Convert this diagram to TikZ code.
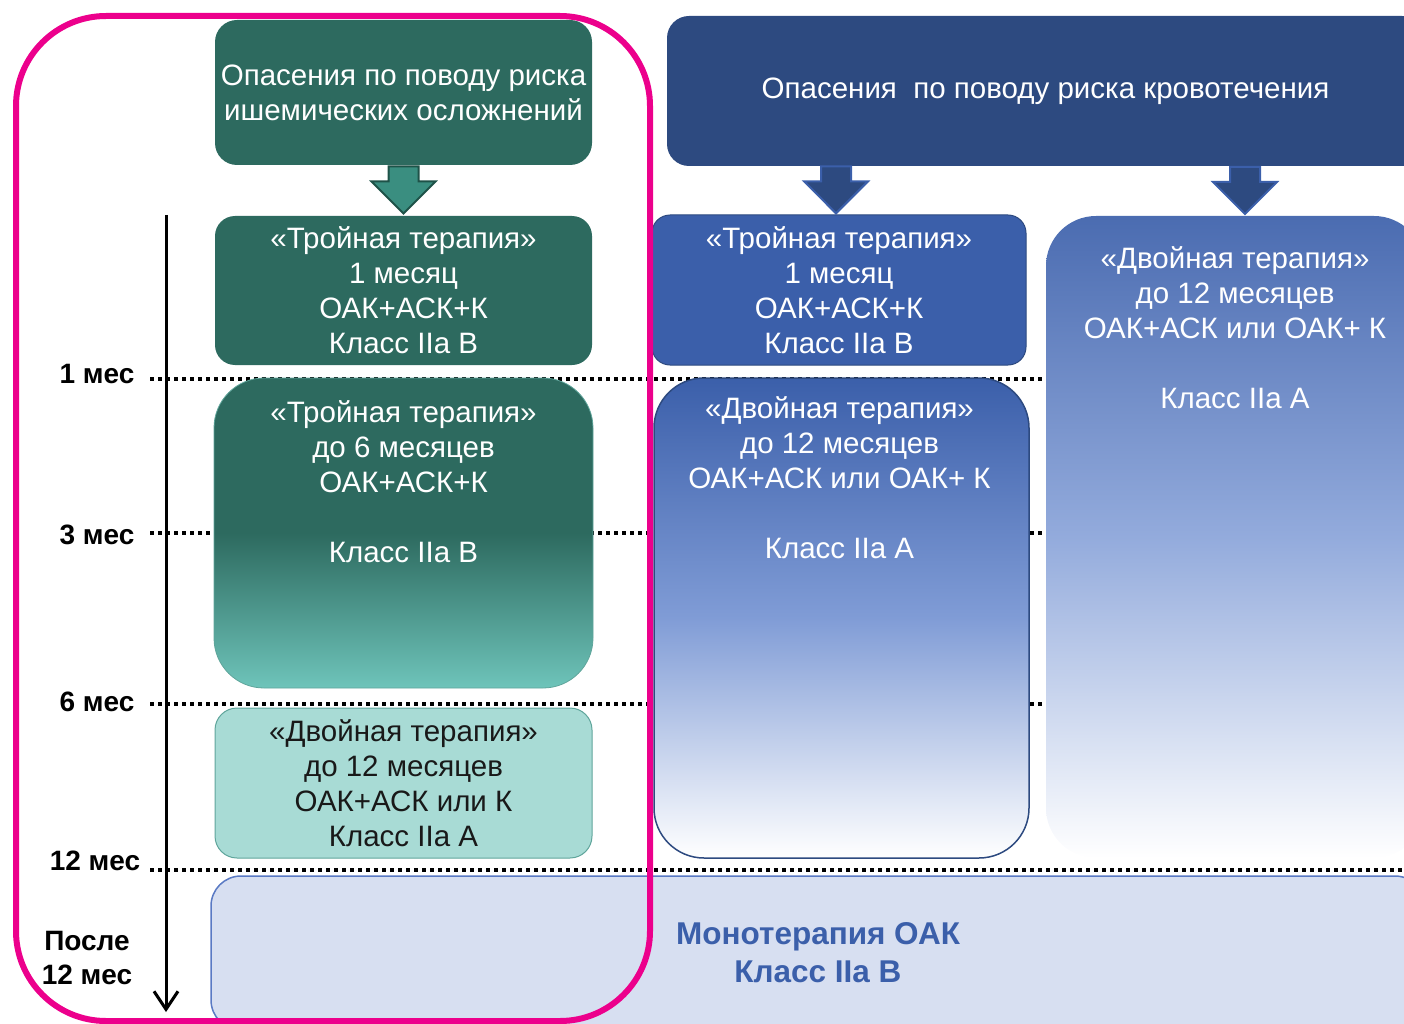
\documentclass[tikz,border=0pt]{standalone}
\usepackage{fontspec}
\setmainfont{Liberation Sans}
\usepackage{tikz}
\usetikzlibrary{shapes.arrows,arrows.meta,calc}
\usepackage{xcolor}
\definecolor{ischdark}{RGB}{45,106,95}
\definecolor{ischlight}{RGB}{110,196,186}
\definecolor{ischpale}{RGB}{168,219,213}
\definecolor{ischedge}{RGB}{95,165,155}
\definecolor{arrteal}{RGB}{58,142,128}
\definecolor{arrtealedge}{RGB}{30,82,72}
\definecolor{bleednavy}{RGB}{45,74,128}
\definecolor{bleedblue}{RGB}{59,95,170}
\definecolor{bleedmid}{RGB}{128,156,214}
\definecolor{monofill}{RGB}{215,223,241}
\definecolor{monoedge}{RGB}{90,122,196}
\definecolor{framepink}{RGB}{236,0,140}
\tikzset{
    % rounded panel, corner radius as argument
    panel/.style={rectangle, rounded corners=#1, inner sep=0pt},
    panel/.default=20pt,
    boxtext/.style={font=\fontsize{29.5}{35}\selectfont, align=center, inner sep=0pt},
    timelabel/.style={font=\bfseries\fontsize{28}{34}\selectfont, align=center, text=black},
    tickline/.style={line width=3.5pt, dash pattern=on 3.5pt off 4.5pt, draw=black},
    % block arrows pointing down
    downarrow/.style={single arrow, rotate=-90, minimum height=47pt,
        inner xsep=0pt, inner ysep=14pt, single arrow head extend=17pt, line width=2pt},
    tealarrow/.style={downarrow, fill=arrteal, draw=arrtealedge},
    bluearrow/.style={downarrow, fill=bleednavy, draw=bleedblue}
}
\begin{document}
\begin{tikzpicture}[x=1pt, y=-1pt]

    \useasboundingbox (0,0) rectangle (1404,1024);
    \clip (0,0) rectangle (1404,1024);

    % =========================================================================
    % Time marks (dotted), drawn first so that the boxes cover them
    % =========================================================================
    \foreach \yy in {379,533,704,870}
        \draw[tickline] (150,\yy) -- (1404,\yy);

    % =========================================================================
    % LEFT COLUMN: ischaemic risk
    % =========================================================================
    \node[panel=22pt, fill=ischdark, text=white, boxtext, minimum width=377pt, minimum height=145pt]
        (ish) at (403.5,92.5) {Опасения по поводу риска\\ишемических осложнений};

    \node[panel=20pt, fill=ischdark, text=white, boxtext, minimum width=377pt, minimum height=149pt]
        (gtri) at (403.5,290.5) {«Тройная терапия»\\1 месяц\\ОАК+АСК+К\\Класс IIa B};

    \node[panel=50pt, top color=ischdark, bottom color=ischlight, middle color=ischdark,
          draw=ischedge, line width=0.8pt, minimum width=379pt, minimum height=310pt]
        (gsix) at (403.5,533) {};
    \node[boxtext, text=white, anchor=north] (gsixtxt) at ($(gsix.north)+(0,22.5)$)
        {«Тройная терапия»\\до 6 месяцев\\ОАК+АСК+К\\[35pt]Класс IIa B};

    \node[panel=22pt, fill=ischpale, draw=ischedge, line width=1pt, text=black!90, boxtext,
          minimum width=377pt, minimum height=150pt]
        (gdual) at (403.5,783) {«Двойная терапия»\\до 12 месяцев\\ОАК+АСК или К\\Класс IIa A};

    \node[tealarrow] (ishar) at ($(ish.south)!0.5!(gtri.north)+(0,-8)$) {};

    % =========================================================================
    % RIGHT COLUMNS: bleeding risk
    % =========================================================================
    \node[panel=22pt, fill=bleednavy, text=white, boxtext, minimum width=757pt, minimum height=150pt]
        (bleed) at (1045.5,91) {Опасения\ \ по поводу риска кровотечения};

    \node[panel=18pt, fill=bleedblue, draw=bleednavy, line width=1pt, text=white, boxtext,
          minimum width=374pt, minimum height=150pt]
        (btri) at (839,290) {«Тройная терапия»\\1 месяц\\ОАК+АСК+К\\Класс IIa B};

    \node[panel=50pt, top color=bleedblue, bottom color=white, middle color=bleedmid,
          draw=bleednavy, line width=1.5pt, minimum width=375pt, minimum height=480pt]
        (bdual) at (841.5,618) {};
    \node[boxtext, text=white, anchor=north] (bdualtxt) at ($(bdual.north)+(-2,19.5)$)
        {«Двойная терапия»\\до 12 месяцев\\ОАК+АСК или ОАК+ К\\[35pt]Класс IIa A};

    \node[panel=50pt, top color=bleedblue!92!white, bottom color=white, middle color=bleedmid!85!white,
          minimum width=378pt, minimum height=642pt]
        (bdualr) at (1235,537) {};
    \node[boxtext, text=white, anchor=north] (bdualrtxt) at ($(bdualr.north)+(0,30.5)$)
        {«Двойная терапия»\\до 12 месяцев\\ОАК+АСК или ОАК+ К\\[35pt]Класс IIa A};

    \node[bluearrow] (bar1) at ($(bleed.south -| btri.north)!0.5!(btri.north)+(-3,-8)$) {};
    \node[bluearrow] (bar2) at ($(bleed.south -| bdualr.north)!0.5!(bdualr.north)+(10,-8)$) {};

    % =========================================================================
    % BOTTOM: after 12 months
    % =========================================================================
    \node[panel=30pt, fill=monofill, draw=monoedge, line width=1.5pt, minimum width=1214pt,
          minimum height=154pt, font=\bfseries\fontsize{31.5}{38}\selectfont, text=bleedblue,
          align=center]
        (mono) at (818,953) {Монотерапия ОАК\\Класс IIa B};

    % =========================================================================
    % Time axis with labels
    % =========================================================================
    \coordinate (axtop) at (166,215);
    \coordinate (axbot) at (166,1012);
    \draw[line width=3pt, -{Straight Barb[length=18pt, width=24pt]}] (axtop) -- (axbot);

    \node[timelabel] (m1)  at (97,374)  {1 мес};
    \node[timelabel] (m3)  at (97,535)  {3 мес};
    \node[timelabel] (m6)  at (97,702)  {6 мес};
    \node[timelabel] (m12) at (95,861)  {12 мес};
    \node[timelabel] (mafter) at (87,958) {После\\12 мес};

    % Magenta frame round the ischaemic column
    \draw[framepink, line width=6pt, rounded corners=90pt] (16,16) rectangle (650,1021);

\end{tikzpicture}
\end{document}
